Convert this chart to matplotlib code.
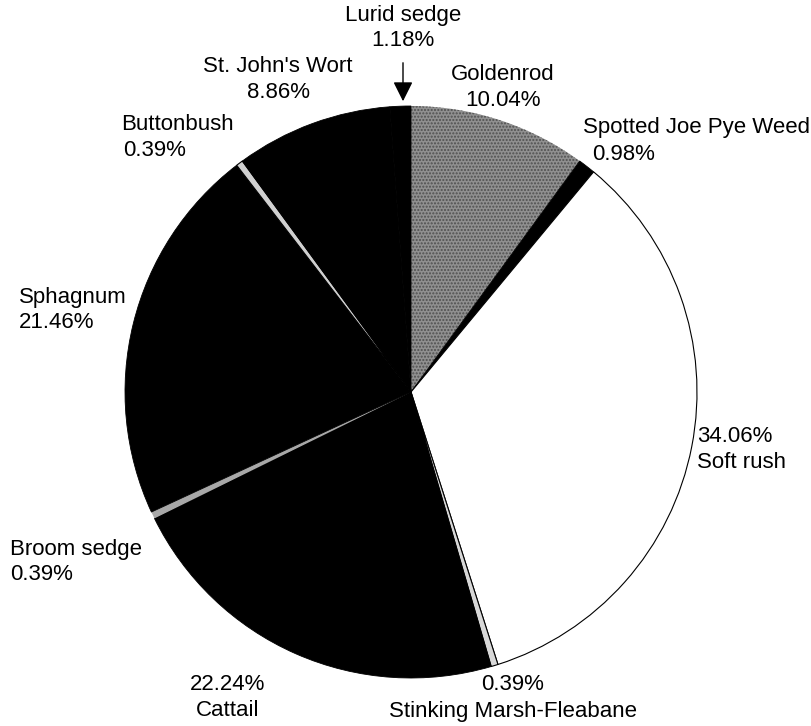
import matplotlib
matplotlib.use("Agg")
from matplotlib import pyplot as plt

# Plant cover, clockwise from 12 o'clock
species = ["Goldenrod", "Spotted Joe Pye Weed", "Soft rush", "Stinking Marsh-Fleabane",
           "Cattail", "Broom sedge", "Sphagnum", "Buttonbush", "St. John's Wort", "Lurid sedge"]
percent = [10.04, 0.98, 34.06, 0.39, 22.24, 0.39, 21.46, 0.39, 8.86, 1.18]

colors = ["#909090", "#000000", "#ffffff", "#d8d8d8", "#000000",
          "#a8a8a8", "#000000", "#d0d0d0", "#000000", "#000000"]

plt.rcParams['font.family'] = ['Liberation Sans', 'DejaVu Sans']

W, H = 812, 726
fig = plt.figure(figsize=(W / 100, H / 100), dpi=100)
# pie sits in a 572 px box, left 125, top 106
ax = fig.add_axes([125 / W, (H - 678) / H, 572 / W, 572 / H])
wedges, _ = ax.pie(percent, colors=colors, startangle=90, counterclock=False,
                   radius=1, wedgeprops=dict(linewidth=0))
ax.set_xlim(-1.0, 1.0)
ax.set_ylim(-1.0, 1.0)
ax.set_aspect('auto')
ax.axis('off')

# black slices get a matching edge so no seams show between them
for w, c in zip(wedges, colors):
    if c == "#000000":
        w.set_edgecolor('black')
        w.set_linewidth(0.6)

# stippled goldenrod, outlined white / light slices
wedges[0].set_hatch('.....')
wedges[0].set_edgecolor('#505050')
for i in (2, 3, 7):
    wedges[i].set_edgecolor('black')
    wedges[i].set_linewidth(0.8)

# label positions in pixels: (x, y of first line, alignment, percent first?)
label_pos = {
    "Goldenrod": (503, 75, 'center', False),
    "Spotted Joe Pye Weed": (583, 128, 'left', False),
    "Soft rush": (697, 436, 'left', True),
    "Stinking Marsh-Fleabane": (513, 685, 'center', True),
    "Cattail": (228, 684, 'center', True),
    "Broom sedge": (10, 549, 'left', False),
    "Sphagnum": (19, 297, 'left', False),
    "Buttonbush": (121, 125, 'left', False),
    "St. John's Wort": (278, 67, 'center', False),
    "Lurid sedge": (403, 15, 'center', False),
}
second_dx = {"Spotted Joe Pye Weed": 9, "Buttonbush": 2}

fs = 16
line = 26
for name, val in zip(species, percent):
    x, y, ha, pct_first = label_pos[name]
    pct = f"{val:.2f}%"
    lines = [pct, name] if pct_first else [name, pct]
    for k, s in enumerate(lines):
        dx = second_dx.get(name, 0) if k == 1 else 0
        fig.text((x + dx) / W, 1 - (y + k * line) / H, s, ha=ha, va='center',
                 fontsize=fs, color='black')

# arrow to the thin lurid sedge slice
fig.add_artist(matplotlib.patches.FancyArrowPatch(
    (403 / W, 1 - 60 / H), (403 / W, 1 - 104 / H), transform=fig.transFigure,
    arrowstyle='-|>,head_length=8,head_width=4', mutation_scale=1.5,
    color='black', linewidth=1))

fig.savefig('out.png', dpi=100)
